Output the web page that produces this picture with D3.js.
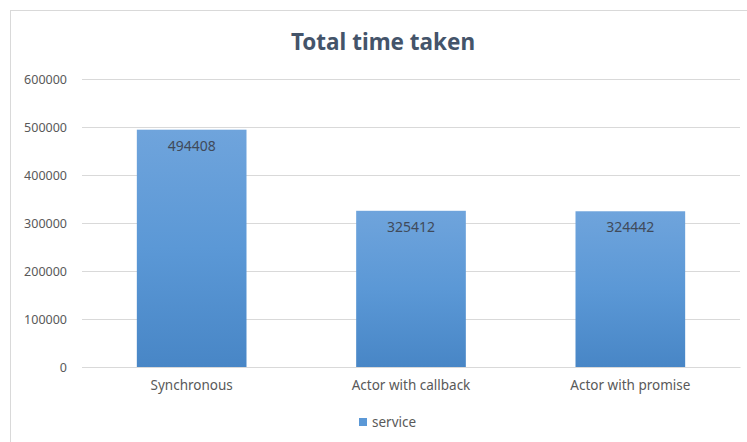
<!DOCTYPE html>
<html>
<head>
<meta charset="utf-8">
<script src="https://cdn.jsdelivr.net/npm/d3@7/dist/d3.min.js"></script>
<style>
  html, body { margin: 0; padding: 0; background: #ffffff; }
  svg { display: block; }
  text { font-family: "Noto Sans", "Open Sans", sans-serif; }
</style>
</head>
<body>
<svg id="chart" width="747" height="442"></svg>
<script>
// Chart data
const categories = ["Synchronous", "Actor with callback", "Actor with promise"];
const serviceValues = [494408, 325412, 324442];
const yTicks = [0, 100000, 200000, 300000, 400000, 500000, 600000];
const seriesName = "service";
const chartTitle = "Total time taken";

const W = 747, H = 442;
const margin = { top: 79, right: 7, bottom: 75, left: 82 };
const innerW = W - margin.left - margin.right;
const innerH = H - margin.top - margin.bottom;

const svg = d3.select("#chart");

// gradient for bars
const defs = svg.append("defs");
const grad = defs.append("linearGradient")
  .attr("id", "barGrad").attr("x1", 0).attr("y1", 0).attr("x2", 0).attr("y2", 1);
grad.append("stop").attr("offset", "0%").attr("stop-color", "#6fa4dc");
grad.append("stop").attr("offset", "50%").attr("stop-color", "#5b98d6");
grad.append("stop").attr("offset", "100%").attr("stop-color", "#4886c6");

// chart area frame (top and left edges)
svg.append("line").attr("x1", 10).attr("x2", W).attr("y1", 10.5).attr("y2", 10.5)
  .attr("stroke", "#d9d9d9").attr("stroke-width", 1);
svg.append("line").attr("x1", 10.5).attr("x2", 10.5).attr("y1", 10).attr("y2", H)
  .attr("stroke", "#d9d9d9").attr("stroke-width", 1);

// title
svg.append("text")
  .attr("x", 383).attr("y", 50)
  .attr("text-anchor", "middle")
  .attr("font-size", 22.5).attr("font-weight", 700)
  .attr("fill", "#44546a")
  .text(chartTitle);

const g = svg.append("g").attr("transform", `translate(${margin.left},${margin.top})`);

const x = d3.scaleBand()
  .domain(categories)
  .range([0, innerW])
  .paddingInner(0.5)
  .paddingOuter(0.25);

const y = d3.scaleLinear().domain([0, 600000]).range([innerH, 0]);

// gridlines and y labels
const yAxis = d3.axisLeft(y).tickValues(yTicks).tickSize(-innerW).tickPadding(15)
  .tickFormat(d3.format("d"));
const yg = g.append("g").call(yAxis);
yg.select(".domain").remove();
yg.selectAll(".tick line").attr("stroke", "#d9d9d9").attr("stroke-width", 1);
yg.selectAll(".tick text").attr("fill", "#595959").attr("font-size", 12.5)
  .attr("font-family", "\"Noto Sans\", sans-serif");

// bars
g.selectAll("rect.bar")
  .data(serviceValues)
  .join("rect")
  .attr("class", "bar")
  .attr("x", (d, i) => x(categories[i]))
  .attr("width", x.bandwidth())
  .attr("y", d => y(d))
  .attr("height", d => innerH - y(d))
  .attr("fill", "url(#barGrad)");

// value labels inside bars
g.selectAll("text.val")
  .data(serviceValues)
  .join("text")
  .attr("class", "val")
  .attr("x", (d, i) => x(categories[i]) + x.bandwidth() / 2)
  .attr("y", d => y(d) + 21)
  .attr("text-anchor", "middle")
  .attr("font-size", 14)
  .attr("fill", "#404a5a")
  .text(d => d);

// x axis labels
const xAxis = d3.axisBottom(x).tickSize(0).tickPadding(13);
const xg = g.append("g").attr("transform", `translate(0,${innerH})`).call(xAxis);
xg.select(".domain").attr("stroke", "#d9d9d9");
xg.selectAll(".tick text").attr("fill", "#595959").attr("font-size", 13.5)
  .attr("font-family", "\"Noto Sans\", sans-serif");

// legend
const lg = svg.append("g").attr("transform", "translate(359,418)");
lg.append("rect").attr("width", 8).attr("height", 8).attr("fill", "#5b98d6");
lg.append("text").attr("x", 13).attr("y", 4).attr("dy", "0.35em")
  .attr("font-size", 13.5).attr("fill", "#595959").text(seriesName);
</script>
</body>
</html>
